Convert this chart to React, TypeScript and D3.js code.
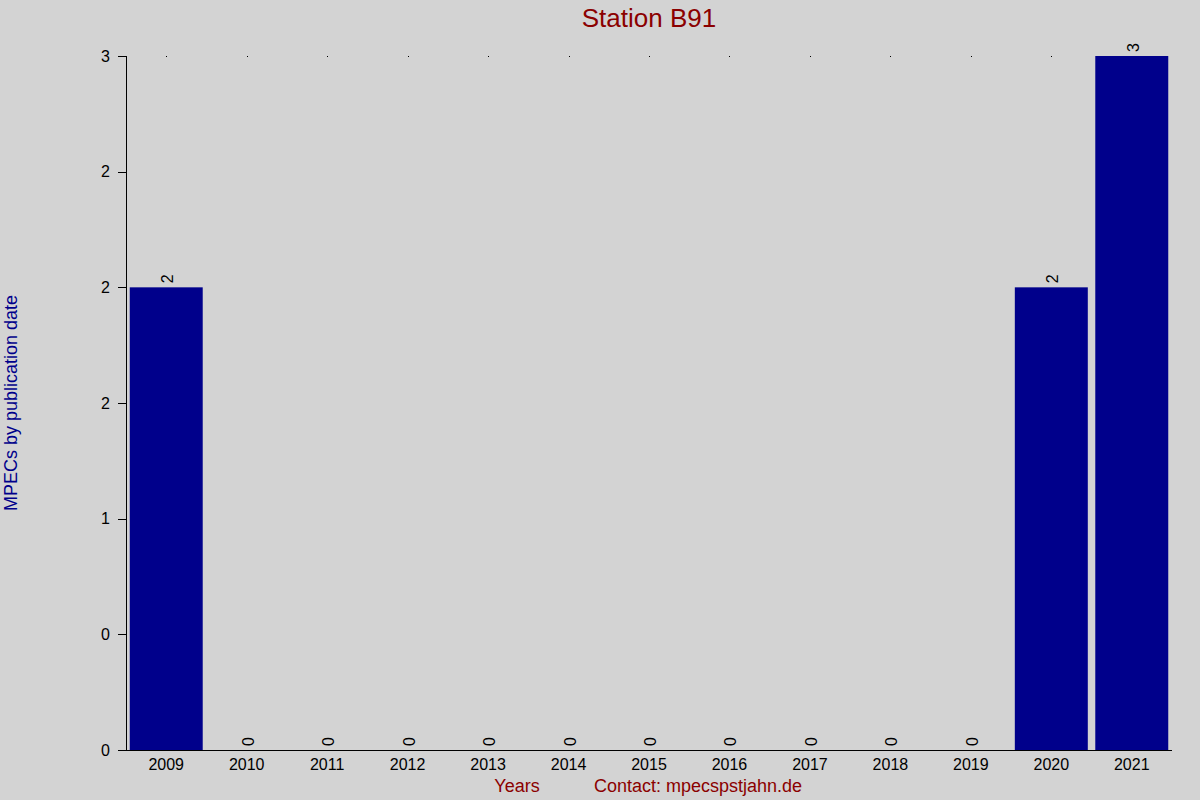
import React from "react";
import * as d3 from "d3";

const years = ["2009", "2010", "2011", "2012", "2013", "2014", "2015", "2016", "2017", "2018", "2019", "2020", "2021"];
const counts = [2, 0, 0, 0, 0, 0, 0, 0, 0, 0, 0, 2, 3];
const yTickValues = [0, 0.5, 1, 1.5, 2, 2.5, 3];
const yTickLabels = ["0", "0", "1", "2", "2", "2", "3"];

const W = 1200;
const H = 800;
const margin = { top: 56, right: 28, bottom: 50, left: 126 };
const font = "Liberation Sans, Arial, sans-serif";

export default function App() {
  const x = d3
    .scaleBand<string>()
    .domain(years)
    .range([margin.left, W - margin.right])
    .paddingInner(0.093)
    .paddingOuter(0.0465);
  const y = d3
    .scaleLinear()
    .domain([0, 3])
    .range([H - margin.bottom, margin.top]);

  const y0 = y(0);

  return (
    <svg
      width={W}
      height={H}
      style={{ position: "absolute", left: 0, top: 0, display: "block" }}
      fontFamily={font}
    >
      <rect width={W} height={H} fill="#d3d3d3" />
      <text x={649} y={27} textAnchor="middle" fontSize={26} fill="#8b0000">
        Station B91
      </text>

      {/* small markers along the top */}
      {years.map((yr) => (
        <rect key={"d" + yr} x={Math.round(x(yr)! + x.bandwidth() / 2)} y={y(3)} width={1} height={1} fill="#000" />
      ))}

      {/* bars */}
      {years.map((yr, i) => (
        <rect
          key={yr}
          x={x(yr)}
          y={y(counts[i])}
          width={x.bandwidth()}
          height={y0 - y(counts[i])}
          fill="#00008b"
        />
      ))}

      {/* value labels */}
      {years.map((yr, i) => {
        const cx = x(yr)! + x.bandwidth() / 2 + 7;
        const cy = y(counts[i]) - 4;
        return (
          <text
            key={"v" + yr}
            transform={`translate(${cx},${cy}) rotate(-90)`}
            fontSize={16}
            fill="#000"
          >
            {counts[i]}
          </text>
        );
      })}

      {/* y axis */}
      <line x1={margin.left + 0.5} x2={margin.left + 0.5} y1={y(3)} y2={y0} stroke="#000" />
      {yTickValues.map((v, i) => (
        <g key={"yt" + i}>
          <line x1={118} x2={margin.left} y1={Math.round(y(v)) + 0.5} y2={Math.round(y(v)) + 0.5} stroke="#000" />
          <text x={110} y={y(v) + 5.5} textAnchor="end" fontSize={16} fill="#000">
            {yTickLabels[i]}
          </text>
        </g>
      ))}

      {/* x axis */}
      <line x1={118} x2={W - margin.right} y1={Math.round(y0) + 0.5} y2={Math.round(y0) + 0.5} stroke="#000" />
      {years.map((yr) => (
        <text
          key={"xt" + yr}
          x={x(yr)! + x.bandwidth() / 2}
          y={770}
          textAnchor="middle"
          fontSize={16}
          fill="#000"
        >
          {yr}
        </text>
      ))}

      <text x={517} y={792} textAnchor="middle" fontSize={18} fill="#8b0000">
        Years
      </text>
      <text x={698} y={792} textAnchor="middle" fontSize={18} fill="#8b0000">
        Contact: mpecspstjahn.de
      </text>
      <text
        transform={`translate(17,403) rotate(-90)`}
        textAnchor="middle"
        fontSize={18}
        fill="#00008b"
      >
        MPECs by publication date
      </text>
    </svg>
  );
}
